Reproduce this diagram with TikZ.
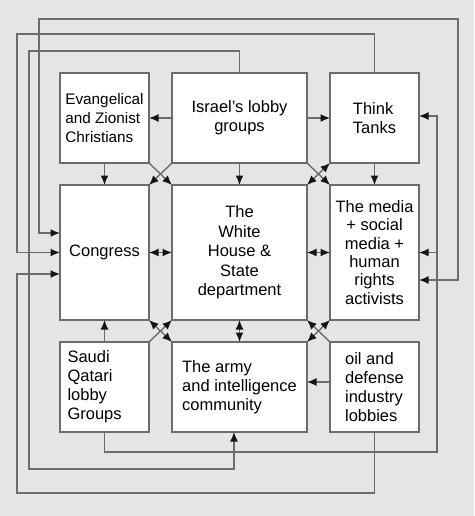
\documentclass[tikz,border=0pt]{standalone}
\usepackage{fontspec}
\setmainfont{Liberation Sans}
\usetikzlibrary{positioning,arrows.meta}
\definecolor{LineGray}{RGB}{108,108,108}
\definecolor{BackGray}{RGB}{229,229,229}
\definecolor{TipBlack}{RGB}{20,20,20}

\begin{document}
\begin{tikzpicture}[
x=1pt, y=-1pt,
font=\fontsize{16.5}{19}\selectfont,
box/.style={draw=LineGray, line width=1.5pt, fill=white, align=center, inner sep=2pt, outer sep=0pt, minimum width=89pt, minimum height=90pt},
wide/.style={minimum width=135pt},
tall/.style={minimum height=135pt},
arr/.style={-{Latex[length=9.5pt,width=8pt,color=TipBlack]}, draw=LineGray, line width=1.4pt},
dbl/.style={{Latex[length=9.5pt,width=8pt,color=TipBlack]}-{Latex[length=9.5pt,width=8pt,color=TipBlack]}, draw=LineGray, line width=1.4pt}
]
\fill[BackGray] (0,0) rectangle (474,516);
\useasboundingbox (0,0) rectangle (474,516);

\node[box, align=left, font=\fontsize{15.3}{19}\selectfont] (evan) at (104.5,118) {Evangelical\\and Zionist\\Christians};
\node[box, wide, right=23pt of evan] (isr) {Israel’s lobby\\groups};
\node[box, align=left, right=23pt of isr] (think) {Think\\Tanks};
\node[box, tall, below=22pt of evan] (cong) {Congress};
\node[box, wide, tall, below=22pt of isr, font=\fontsize{16.5}{19.5}\selectfont] (wh) {The\\White\\House \&\\State\\department};
\node[box, tall, below=22pt of think, font=\fontsize{16.5}{18.3}\selectfont] (media) {The media\\+ social\\media +\\human\\rights\\activists};
\node[box, below=22pt of cong, align=left, text width=74pt, inner xsep=7.5pt] (saudi) {Saudi\\Qatari\\lobby\\Groups};
\node[box, wide, align=left, below=22pt of wh] (army) {The army\\and intelligence\\community};
\node[box, align=left, below=22pt of media] (oil) {oil and\\defense\\industry\\lobbies};

\coordinate (ringA) at (39,19);
\coordinate (ringB) at (458,19);
\coordinate (ringC) at (17,34);
\coordinate (ringD) at (29,51);
\coordinate (ringE) at (234,469);
\coordinate (ringF) at (437,452);
\coordinate (ringG) at (17,493);

\draw[arr] (isr.west) -- (evan.east);
\draw[arr] (isr.east) -- (think.west);
\draw[arr] (evan.south) -- (cong.north);
\draw[arr] (isr.south) -- (wh.north);
\draw[arr] (think.south) -- (media.north);
\draw[arr] (evan.south east) -- (wh.north west);
\draw[arr] (isr.south west) -- (cong.north east);
\draw[arr] (isr.south east) -- (media.north west);
\draw[dbl] (think.south west) -- (wh.north east);
\draw[dbl] (cong.east) -- (wh.west);
\draw[dbl] (wh.east) -- (media.west);
\draw[arr] (saudi.north) -- (cong.south);
\draw[dbl] (wh.south) -- (army.north);
\draw[dbl] (cong.south east) -- (army.north west);
\draw[arr] (saudi.north east) -- (wh.south west);
\draw[arr] (oil.north west) -- (wh.south east);
\draw[dbl] (media.south west) -- (army.north east);
\draw[arr] ([yshift=5pt]oil.west) -- ([yshift=5pt]army.east);

\draw[dbl] ([yshift=19.5pt]cong.west) -| (ringA) -| (ringB) |- ([yshift=-27.5pt]media.east);
\draw[arr] (think.north) |- (ringC) |- (cong.west);
\draw[arr] (isr.north) |- (ringD) |- (ringE) -- ([xshift=-5.5pt]army.south);
\draw[arr] (saudi.south) |- (ringF) |- ([yshift=2pt]think.east);
\draw[arr] (ringF |- media.east) -- (media.east);
\draw[arr] (oil.south) |- (ringG) |- ([yshift=-21.5pt]cong.west);
\end{tikzpicture}
\end{document}
